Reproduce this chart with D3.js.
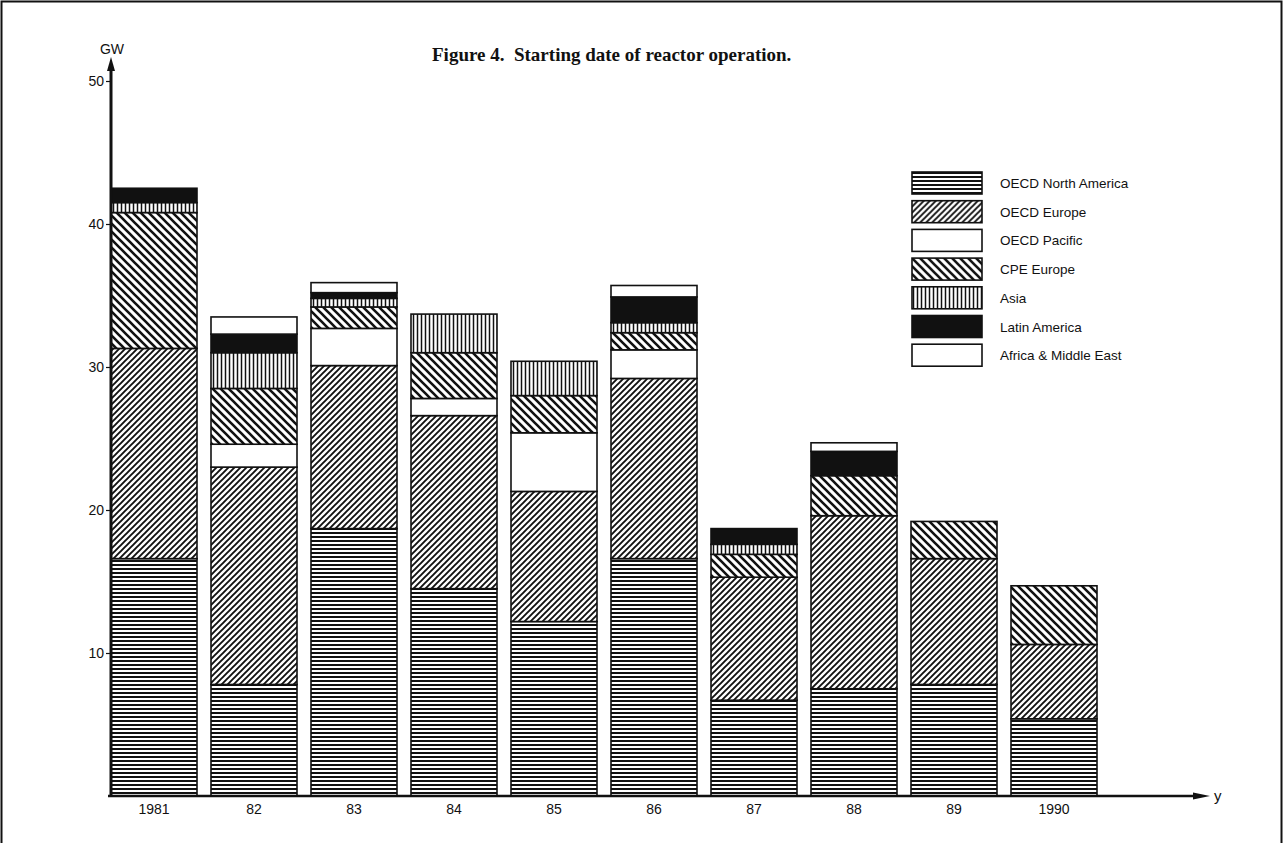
<!DOCTYPE html>
<html>
<head>
<meta charset="utf-8">
<script src="https://cdn.jsdelivr.net/npm/d3@7"></script>
<style>
  body { margin: 0; background: #fff; }
  text { font-family: "Liberation Sans", Arial, sans-serif; fill: #111; }
</style>
</head>
<body>
<script>
// values, GW per starting year
const years = ["1981", "82", "83", "84", "85", "86", "87", "88", "89", "1990"];
const oecdNorthAmerica = [16.6, 7.8, 18.7, 14.5, 12.2, 16.6, 6.7, 7.5, 7.8, 5.4];
const oecdEurope       = [14.7, 15.2, 11.4, 12.1, 9.1, 12.6, 8.6, 12.1, 8.8, 5.2];
const oecdPacific      = [0, 1.6, 2.6, 1.2, 4.1, 2.0, 0, 0, 0, 0];
const cpeEurope        = [9.5, 3.9, 1.5, 3.2, 2.6, 1.2, 1.6, 2.8, 2.6, 4.1];
const asia             = [0.7, 2.5, 0.6, 2.7, 2.4, 0.7, 0.7, 0, 0, 0];
const latinAmerica     = [1.0, 1.3, 0.4, 0, 0, 1.8, 1.1, 1.7, 0, 0];
const africaMidEast    = [0, 1.2, 0.7, 0, 0, 0.8, 0, 0.6, 0, 0];
const seriesNames = ["OECD North America", "OECD Europe", "OECD Pacific", "CPE Europe",
                     "Asia", "Latin America", "Africa & Middle East"];
const yTicks = [10, 20, 30, 40, 50];

const width = 1283, height = 843;
const svg = d3.select("body").append("svg")
  .attr("width", width).attr("height", height);

// frame of the scanned page
svg.append("rect")
  .attr("x", 1.5).attr("y", 1.5).attr("width", width - 3).attr("height", height + 20)
  .attr("fill", "none").attr("stroke", "#111").attr("stroke-width", 2);

// hatch patterns
const defs = svg.append("defs");
function pat(id, w, h, d, sw) {
  const p = defs.append("pattern").attr("id", id)
    .attr("patternUnits", "userSpaceOnUse").attr("width", w).attr("height", h);
  p.append("rect").attr("width", w).attr("height", h).attr("fill", "#fff");
  if (d) p.append("path").attr("d", d).attr("stroke", "#111").attr("stroke-width", sw).attr("fill", "none");
}
pat("horiz", 4, 4, "M0,1 H4", 2);
pat("fwd", 6, 6, "M-1,1 L1,-1 M0,6 L6,0 M5,7 L7,5", 1.9);
pat("back", 8, 8, "M-1,7 L1,9 M0,0 L8,8 M7,-1 L9,1", 2.6);
pat("vert", 4, 4, "M1.5,0 V4", 1.5);

const fills = ["url(#horiz)", "url(#fwd)", "#fff", "url(#back)", "url(#vert)", "#111", "#fff"];

const table = years.map((yr, i) => ({
  year: yr,
  "OECD North America": oecdNorthAmerica[i],
  "OECD Europe": oecdEurope[i],
  "OECD Pacific": oecdPacific[i],
  "CPE Europe": cpeEurope[i],
  "Asia": asia[i],
  "Latin America": latinAmerica[i],
  "Africa & Middle East": africaMidEast[i]
}));
const stacked = d3.stack().keys(seriesNames)(table);

const x = d3.scaleBand().domain(years).range([111, 1097]).paddingInner(0.14).paddingOuter(0);
const y = d3.scaleLinear().domain([0, 50]).range([796, 81]);

// bars
svg.append("g").selectAll("g")
  .data(stacked)
  .join("g")
    .attr("fill", (d, i) => fills[i])
  .selectAll("rect")
  .data(d => d.filter(s => s[1] - s[0] > 0))
  .join("rect")
    .attr("x", d => x(d.data.year))
    .attr("y", d => y(d[1]))
    .attr("width", x.bandwidth())
    .attr("height", d => y(d[0]) - y(d[1]))
    .attr("stroke", "#111")
    .attr("stroke-width", 1.6);

// y axis
const yAxis = svg.append("g")
  .attr("transform", "translate(111,0)")
  .call(d3.axisLeft(y).tickValues(yTicks).tickSize(5).tickPadding(2));
yAxis.select(".domain").remove();
yAxis.selectAll(".tick line").attr("stroke", "#111").attr("stroke-width", 1.2);
yAxis.selectAll(".tick text").attr("font-size", 14).attr("fill", "#111")
  .attr("font-family", "Liberation Sans, Arial, sans-serif");

svg.append("line").attr("x1", 111).attr("x2", 111).attr("y1", y(0)).attr("y2", 66)
  .attr("stroke", "#111").attr("stroke-width", 3);
svg.append("path").attr("d", "M111,57 L107,71 L115,71 Z").attr("fill", "#111");
svg.append("text").attr("x", 112).attr("y", 54).attr("text-anchor", "middle")
  .attr("font-size", 14).text("GW");

// x axis
svg.append("line").attr("x1", 108).attr("x2", 1198).attr("y1", y(0)).attr("y2", y(0))
  .attr("stroke", "#111").attr("stroke-width", 2.5);
svg.append("path").attr("d", `M1210,${y(0)} L1193,${y(0) - 3.5} L1193,${y(0) + 3.5} Z`).attr("fill", "#111");
svg.append("text").attr("x", 1214).attr("y", y(0) + 5).attr("font-size", 15).text("y");

svg.append("g").selectAll("text")
  .data(years)
  .join("text")
    .attr("x", d => x(d) + x.bandwidth() / 2)
    .attr("y", 814)
    .attr("text-anchor", "middle")
    .attr("font-size", 14)
    .text(d => d);

// title
svg.append("text")
  .attr("x", 432).attr("y", 61)
  .attr("font-weight", "bold").attr("font-size", 19)
  .style("font-family", "'Liberation Serif', 'Times New Roman', serif")
  .style("white-space", "pre")
  .text("Figure 4.  Starting date of reactor operation.");

// legend
const legend = svg.append("g").selectAll("g")
  .data(seriesNames)
  .join("g")
    .attr("transform", (d, i) => `translate(912,${172 + i * 28.7})`);
legend.append("rect")
  .attr("width", 70).attr("height", 22)
  .attr("fill", (d, i) => fills[i])
  .attr("stroke", "#111").attr("stroke-width", 1.6);
legend.append("text")
  .attr("x", 88).attr("y", 16)
  .attr("font-size", 13.5)
  .text(d => d);
</script>
</body>
</html>
